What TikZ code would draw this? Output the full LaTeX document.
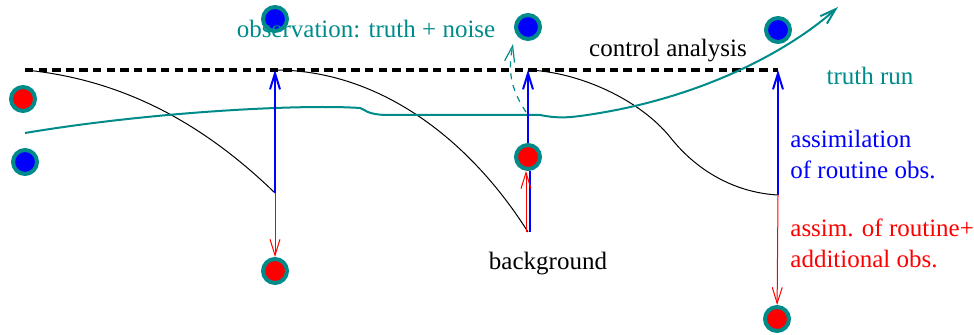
\documentclass[tikz,border=0pt]{standalone}
\usepackage{fontspec}
\setmainfont{Liberation Serif}
\usetikzlibrary{arrows.meta}
\definecolor{sarcelle}{RGB}{0,139,139}
\begin{document}
\begin{tikzpicture}[x=0.5pt,y=-0.5pt]
\tikzstyle{obs} = [circle,draw=sarcelle,line width=2pt,minimum size=12pt,inner sep=0pt]
\tikzstyle{obsbleu} = [obs,fill=blue]
\tikzstyle{obsrouge} = [obs,fill=red]
\tikzstyle{fleche} = [-{Straight Barb[length=8pt,width=5pt]}]
\tikzstyle{texte} = [font=\fontsize{12.5}{15.5}\selectfont,inner sep=0pt,align=left]
\useasboundingbox (0,0) rectangle (974,335);

%points des analyses et des ebauches
\coordinate (A0) at (25,70);
\coordinate (A1) at (275,70);
\coordinate (A2) at (528,70);
\coordinate (A3) at (778,70);
\coordinate (B1) at (275,193);
\coordinate (B2) at (528,232);
\coordinate (B3) at (778,195);
\coordinate (P) at (526,112);
\coordinate (Q) at (513,44);

%observations
\node[obsrouge] (L1) at (23,99) {};
\node[obsbleu] (L2) at (25,162) {};
\node[obsbleu] (O1) at (275,19) {};
\node[obsbleu] (O2) at (528,27) {};
\node[obsbleu] (O3) at (778,30) {};
\node[obsrouge] (R1) at (275,271) {};
\node[obsrouge] (R2) at (528,157) {};
\node[obsrouge] (R3) at (777,319) {};

%analyse de controle
\draw[line width=2pt,dash pattern=on 4.2pt off 2.6pt] (A0)--(A3);

%previsions
\draw[line width=0.5pt] (A0) .. controls (130,80) and (210,130) .. (B1);
\draw[line width=0.5pt] (A1) .. controls (380,70) and (470,140) .. (B2);
\draw[line width=0.5pt] (A2) .. controls (580,72) and (640,100) .. (670,137)
   .. controls (700,175) and (740,193) .. (B3);

%vraie trajectoire
\draw[sarcelle,line width=1pt,fleche] (25,133) .. controls (150,112) and (300,104) .. (360,108)
   .. controls (366,110) and (366,114) .. (385,115) -- (540,115)
   .. controls (555,118) and (565,118) .. (580,116)
   .. controls (700,100) and (790,50) .. (838,7);
\draw[sarcelle,line width=0.6pt,dashed,fleche] (P) .. controls (510,88) and (508,70) .. (Q);

%assimilation
\draw[blue,line width=1pt,fleche] (B1)--(A1);
\draw[blue,line width=1pt] ([xshift=1]B2)--([xshift=1]R2.south);
\draw[blue,line width=1pt,fleche] (R2.north)--(A2);
\draw[blue,line width=1pt,fleche] (B3)--(A3);
\draw[red,line width=0.5pt,fleche] (B1)--(R1);
\draw[red,line width=0.5pt,fleche] ([xshift=-1]B2)--([xshift=-1]R2.south);
\draw[red,line width=0.5pt,fleche] (B3)--(R3);

%textes
\node[texte,sarcelle] (tobs) at (366,29) {observation: truth + noise};
\node[texte] (tctrl) at (668,51) {control analysis};
\node[texte,sarcelle] (tvrai) at (870,76) {truth run};
\node[texte,blue,anchor=west] (tassim) at (790,155) {assimilation\\of routine obs.};
\node[texte,red,anchor=west] (tadd) at (790,243) {assim. of routine+\\additional obs.};
\node[texte] (tebau) at (548,264) {background};
\end{tikzpicture}
\end{document}
